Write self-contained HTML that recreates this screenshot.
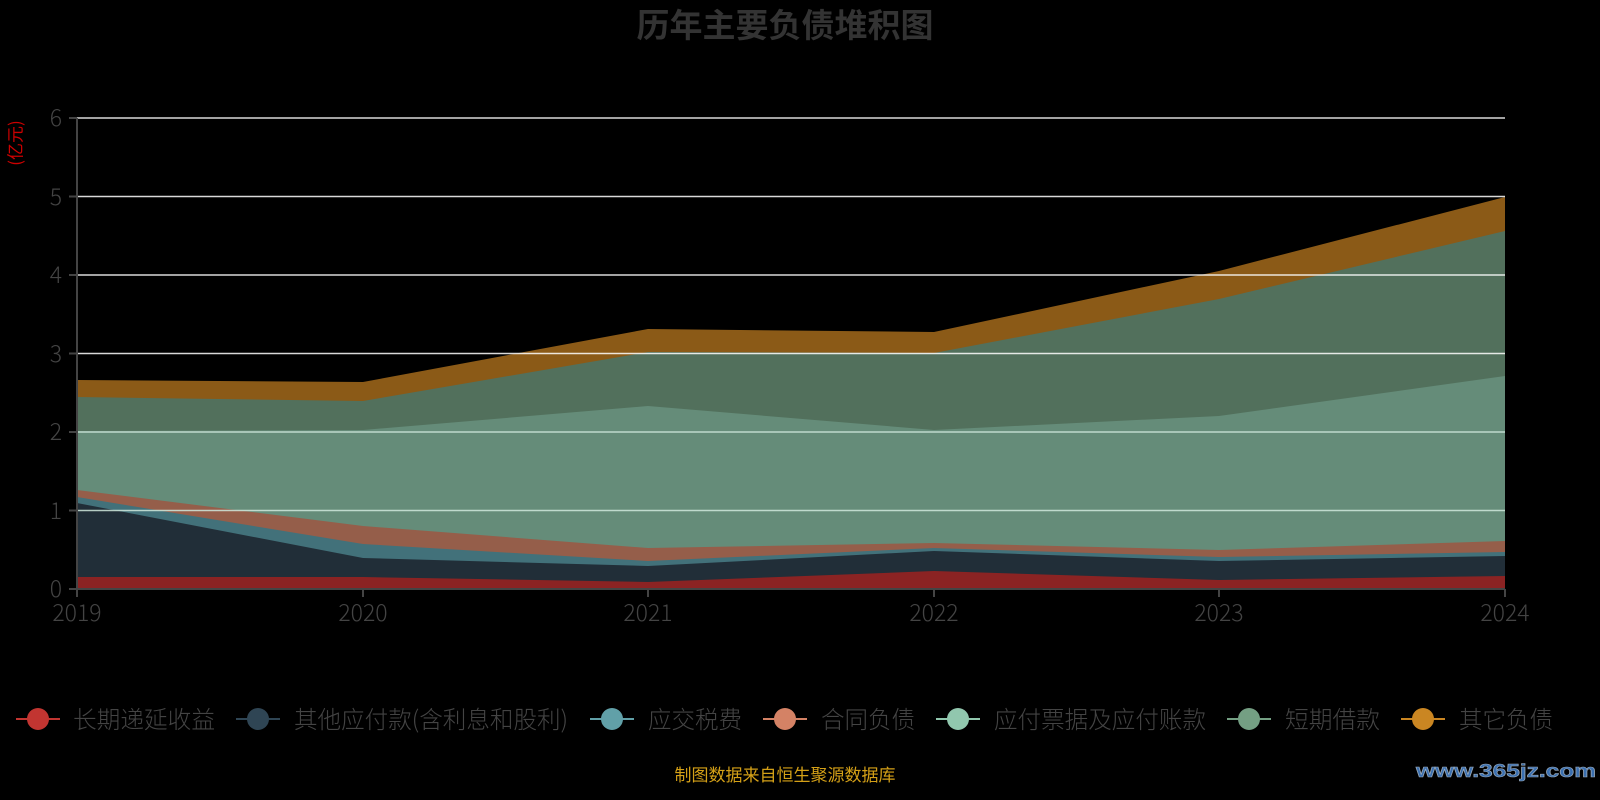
<!DOCTYPE html>
<html><head><meta charset="utf-8"><style>
html,body{margin:0;padding:0;background:#000;}
svg{display:block;font-family:"Liberation Sans","Noto Sans CJK SC",sans-serif;}
</style></head><body>
<svg width="1600" height="800" viewBox="0 0 1600 800">
<rect width="1600" height="800" fill="#000"/>
<text x="785" y="37" text-anchor="middle" font-size="33" font-weight="bold" fill="#333" font-family="Noto Sans CJK SC, sans-serif">历年主要负债堆积图</text>
<text x="17" y="143" font-size="17" fill="#cc0000" transform="rotate(-90 17 143)" text-anchor="middle" dominant-baseline="middle" font-family="Noto Sans CJK SC, sans-serif">(亿元)</text>
<polygon fill="#8b5a17" points="77,380 363,382 648,329 934,332 1219,271 1505,197 1505,589 77,589"/>
<polygon fill="#52705c" points="77,397 363,401 648,352 934,353 1219,299 1505,231 1505,589 77,589"/>
<polygon fill="#658c79" points="77,431 363,430 648,406 934,430 1219,416 1505,376 1505,589 77,589"/>
<polygon fill="#955e4a" points="77,490 363,526 648,548 934,543 1219,550 1505,541 1505,589 77,589"/>
<polygon fill="#42717a" points="77,497 363,544 648,561 934,548 1219,557 1505,552 1505,589 77,589"/>
<polygon fill="#212e38" points="77,503 363,558 648,566 934,551 1219,561 1505,556 1505,589 77,589"/>
<polygon fill="#8b2323" points="77,577 363,577 648,582 934,571 1219,580 1505,576 1505,589 77,589"/>
<g stroke="#ffffff" stroke-width="1.5" opacity="0.85">
<line x1="77" y1="118" x2="1505" y2="118"/>
<line x1="77" y1="196.5" x2="1505" y2="196.5"/>
<line x1="77" y1="275" x2="1505" y2="275"/>
<line x1="77" y1="353.5" x2="1505" y2="353.5"/>
<line x1="77" y1="432" x2="1505" y2="432" stroke="#cfe8dc"/>
<line x1="77" y1="510.5" x2="1505" y2="510.5" stroke="#cfe8dc"/>
</g>
<g stroke="#444" stroke-width="2">
<line x1="77" y1="118" x2="77" y2="589"/>
<line x1="77" y1="589" x2="1505" y2="589"/>
<line x1="69" y1="118" x2="77" y2="118"/><line x1="69" y1="196.5" x2="77" y2="196.5"/>
<line x1="69" y1="275" x2="77" y2="275"/><line x1="69" y1="353.5" x2="77" y2="353.5"/>
<line x1="69" y1="432" x2="77" y2="432"/><line x1="69" y1="510.5" x2="77" y2="510.5"/>
<line x1="69" y1="589" x2="77" y2="589"/>
<line x1="77" y1="589" x2="77" y2="597"/><line x1="363" y1="589" x2="363" y2="597"/>
<line x1="648" y1="589" x2="648" y2="597"/><line x1="934" y1="589" x2="934" y2="597"/>
<line x1="1219" y1="589" x2="1219" y2="597"/><line x1="1505" y1="589" x2="1505" y2="597"/>
</g>
<g font-size="23" fill="#444" text-anchor="end" font-family="Noto Sans CJK SC, sans-serif" font-weight="300">
<text x="62" y="126">6</text><text x="62" y="205">5</text><text x="62" y="283">4</text>
<text x="62" y="362">3</text><text x="62" y="440">2</text><text x="62" y="519">1</text><text x="62" y="597">0</text>
</g>
<g font-size="23" fill="#444" text-anchor="middle" font-family="Noto Sans CJK SC, sans-serif" font-weight="300">
<text x="77" y="621">2019</text><text x="363" y="621">2020</text><text x="648" y="621">2021</text>
<text x="934" y="621">2022</text><text x="1219" y="621">2023</text><text x="1505" y="621">2024</text>
</g>
<g font-size="24" fill="#444" font-family="Noto Sans CJK SC, sans-serif" font-weight="300">
<line x1="16" y1="719" x2="60" y2="719" stroke="#c23531" stroke-width="2"/><circle cx="38" cy="719" r="11" fill="#c23531"/>
<text x="73" y="728" textLength="142" lengthAdjust="spacingAndGlyphs">长期递延收益</text>
<line x1="236" y1="719" x2="280" y2="719" stroke="#2f4554" stroke-width="2"/><circle cx="258" cy="719" r="11" fill="#2f4554"/>
<text x="294" y="728" textLength="274" lengthAdjust="spacingAndGlyphs">其他应付款(含利息和股利)</text>
<line x1="590" y1="719" x2="634" y2="719" stroke="#61a0a8" stroke-width="2"/><circle cx="612" cy="719" r="11" fill="#61a0a8"/>
<text x="648" y="728" textLength="94" lengthAdjust="spacingAndGlyphs">应交税费</text>
<line x1="763" y1="719" x2="807" y2="719" stroke="#d48265" stroke-width="2"/><circle cx="785" cy="719" r="11" fill="#d48265"/>
<text x="821" y="728" textLength="94" lengthAdjust="spacingAndGlyphs">合同负债</text>
<line x1="936" y1="719" x2="980" y2="719" stroke="#91c7ae" stroke-width="2"/><circle cx="958" cy="719" r="11" fill="#91c7ae"/>
<text x="994" y="728" textLength="212" lengthAdjust="spacingAndGlyphs">应付票据及应付账款</text>
<line x1="1227" y1="719" x2="1271" y2="719" stroke="#749f83" stroke-width="2"/><circle cx="1249" cy="719" r="11" fill="#749f83"/>
<text x="1285" y="728" textLength="95" lengthAdjust="spacingAndGlyphs">短期借款</text>
<line x1="1401" y1="719" x2="1445" y2="719" stroke="#ca8622" stroke-width="2"/><circle cx="1423" cy="719" r="11" fill="#ca8622"/>
<text x="1459" y="728" textLength="94" lengthAdjust="spacingAndGlyphs">其它负债</text>
</g>
<text x="785" y="781" font-size="17" fill="#d4a017" text-anchor="middle" font-family="Noto Sans CJK SC, sans-serif">制图数据来自恒生聚源数据库</text>
<text x="1596" y="777" font-size="18" fill="#3a6fb0" stroke="#9ab" stroke-width="0.6" text-anchor="end" font-weight="bold" textLength="180" lengthAdjust="spacingAndGlyphs">www.365jz.com</text>
</svg>
</body></html>
